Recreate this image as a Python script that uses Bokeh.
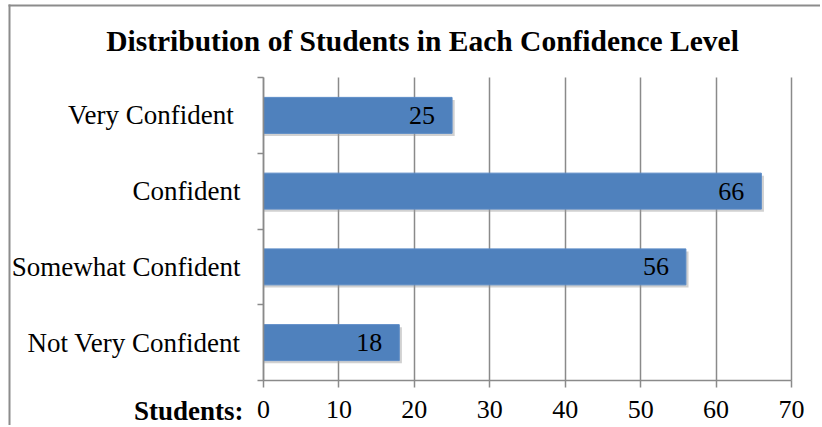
from bokeh.plotting import figure
from bokeh.models import (ColumnDataSource, Range1d, FixedTicker, Label, LabelSet,
                          BoxAnnotation)
from bokeh.transform import dodge
from bokeh.embed import file_html
from bokeh.resources import INLINE

# ---- data (bottom to top) ----
categories = ["Not Very Confident", "Somewhat Confident", "Confident", "Very Confident "]
students = [18, 56, 66, 25]
x_ticks = [0, 10, 20, 30, 40, 50, 60, 70]
title_text = "Distribution of Students in Each Confidence Level"
axis_title = "Students:"

ypos = [i + 0.5 for i in range(len(categories))]
src = ColumnDataSource(dict(cat=categories, val=students, y=ypos,
                            lab=[str(v) for v in students]))

SERIF = "Liberation Serif"
GRAY = "#8a8a8a"
W, H = 820, 425
# plot area (pixels) inside the canvas
PL, PR, PT, PB = 263, 791, 77, 380
XMAX = x_ticks[-1]
NCAT = len(categories)
kx = XMAX / (PR - PL)
ky = NCAT / (PB - PT)

p = figure(width=W, height=H,
           x_range=Range1d(-PL * kx, XMAX + (W - PR) * kx),
           y_range=Range1d(-(H - PB) * ky, NCAT + PT * ky),
           output_backend="svg", toolbar_location=None,
           min_border=0, min_border_left=0, min_border_right=0,
           min_border_top=0, min_border_bottom=0)
p.title = None
p.outline_line_color = None
p.background_fill_color = "white"
p.border_fill_color = "white"

# grid lines (only over the plot area)
g = p.xgrid[0]
g.ticker = FixedTicker(ticks=x_ticks)
g.grid_line_color = GRAY
g.grid_line_width = 1.5
if "cross_bounds" in g.properties():
    g.cross_bounds = (0, NCAT)
else:
    g.grid_line_color = None
    p.segment(x0=x_ticks, y0=0, x1=x_ticks, y1=NCAT, line_color=GRAY, line_width=1.5)
p.ygrid.grid_line_color = None

# shadow
p.hbar(y=dodge("y", -0.035), left=0, right=dodge("val", 0.35), height=0.475, source=src,
       fill_color="#9a9a9a", fill_alpha=0.45, line_color=None)
# bars
p.hbar(y="y", left=0, right="val", height=0.475, source=src,
       fill_color="#4F81BD", line_color="#5a8ac6", line_width=1)

labels = LabelSet(x="val", y="y", text="lab", source=src, x_offset=-17,
                  text_align="right", text_baseline="middle",
                  text_font=SERIF, text_font_size="26px", text_color="black")
p.add_layout(labels)

# x axis at y = 0
xa = p.xaxis[0]
xa.fixed_location = 0
xa.bounds = (0, XMAX)
xa.ticker = FixedTicker(ticks=x_ticks)
xa.axis_line_color = GRAY
xa.axis_line_width = 1.5
xa.major_tick_line_color = GRAY
xa.major_tick_line_width = 1.5
xa.major_tick_out = 7
xa.major_tick_in = 0
xa.minor_tick_line_color = None
xa.major_label_text_font = SERIF
xa.major_label_text_font_size = "26px"
xa.major_label_text_color = "black"
xa.major_label_standoff = 13

# y axis at x = 0
ya = p.yaxis[0]
ya.fixed_location = 0
ya.bounds = (0, NCAT)
ya.ticker = FixedTicker(ticks=ypos, minor_ticks=list(range(NCAT + 1)))
ya.major_label_overrides = {y: c for y, c in zip(ypos, categories)}
ya.axis_line_color = GRAY
ya.axis_line_width = 1.5
ya.major_tick_line_color = None
ya.major_tick_out = 0
ya.major_tick_in = 0
ya.minor_tick_line_color = GRAY
ya.minor_tick_line_width = 1.5
ya.minor_tick_out = 6
ya.minor_tick_in = 0
ya.major_label_text_font = SERIF
ya.major_label_text_font_size = "27px"
ya.major_label_text_color = "black"
ya.major_label_standoff = 17

# title
p.add_layout(Label(x=422, y=H - 40, x_units="screen", y_units="screen", text=title_text,
                   text_align="center", text_baseline="middle", text_font=SERIF,
                   text_font_size="29.5px", text_font_style="bold", text_color="black"))
# axis title, left of the tick labels
p.add_layout(Label(x=243, y=H - 410, x_units="screen", y_units="screen", text=axis_title,
                   text_align="right", text_baseline="middle", text_font=SERIF,
                   text_font_size="27px", text_font_style="bold", text_color="black"))

# chart-area border (left and top)
p.add_layout(BoxAnnotation(left=8, right=10, top=H - 4, bottom=0,
                           left_units="screen", right_units="screen",
                           top_units="screen", bottom_units="screen",
                           fill_color="#8c8c8c", fill_alpha=1, line_color=None,
                           line_alpha=0))
p.add_layout(BoxAnnotation(left=8, right=W, top=H - 4, bottom=H - 6,
                           left_units="screen", right_units="screen",
                           top_units="screen", bottom_units="screen",
                           fill_color="#8c8c8c", fill_alpha=1, line_color=None,
                           line_alpha=0))

open("out.html", "w").write(file_html(p, INLINE))
